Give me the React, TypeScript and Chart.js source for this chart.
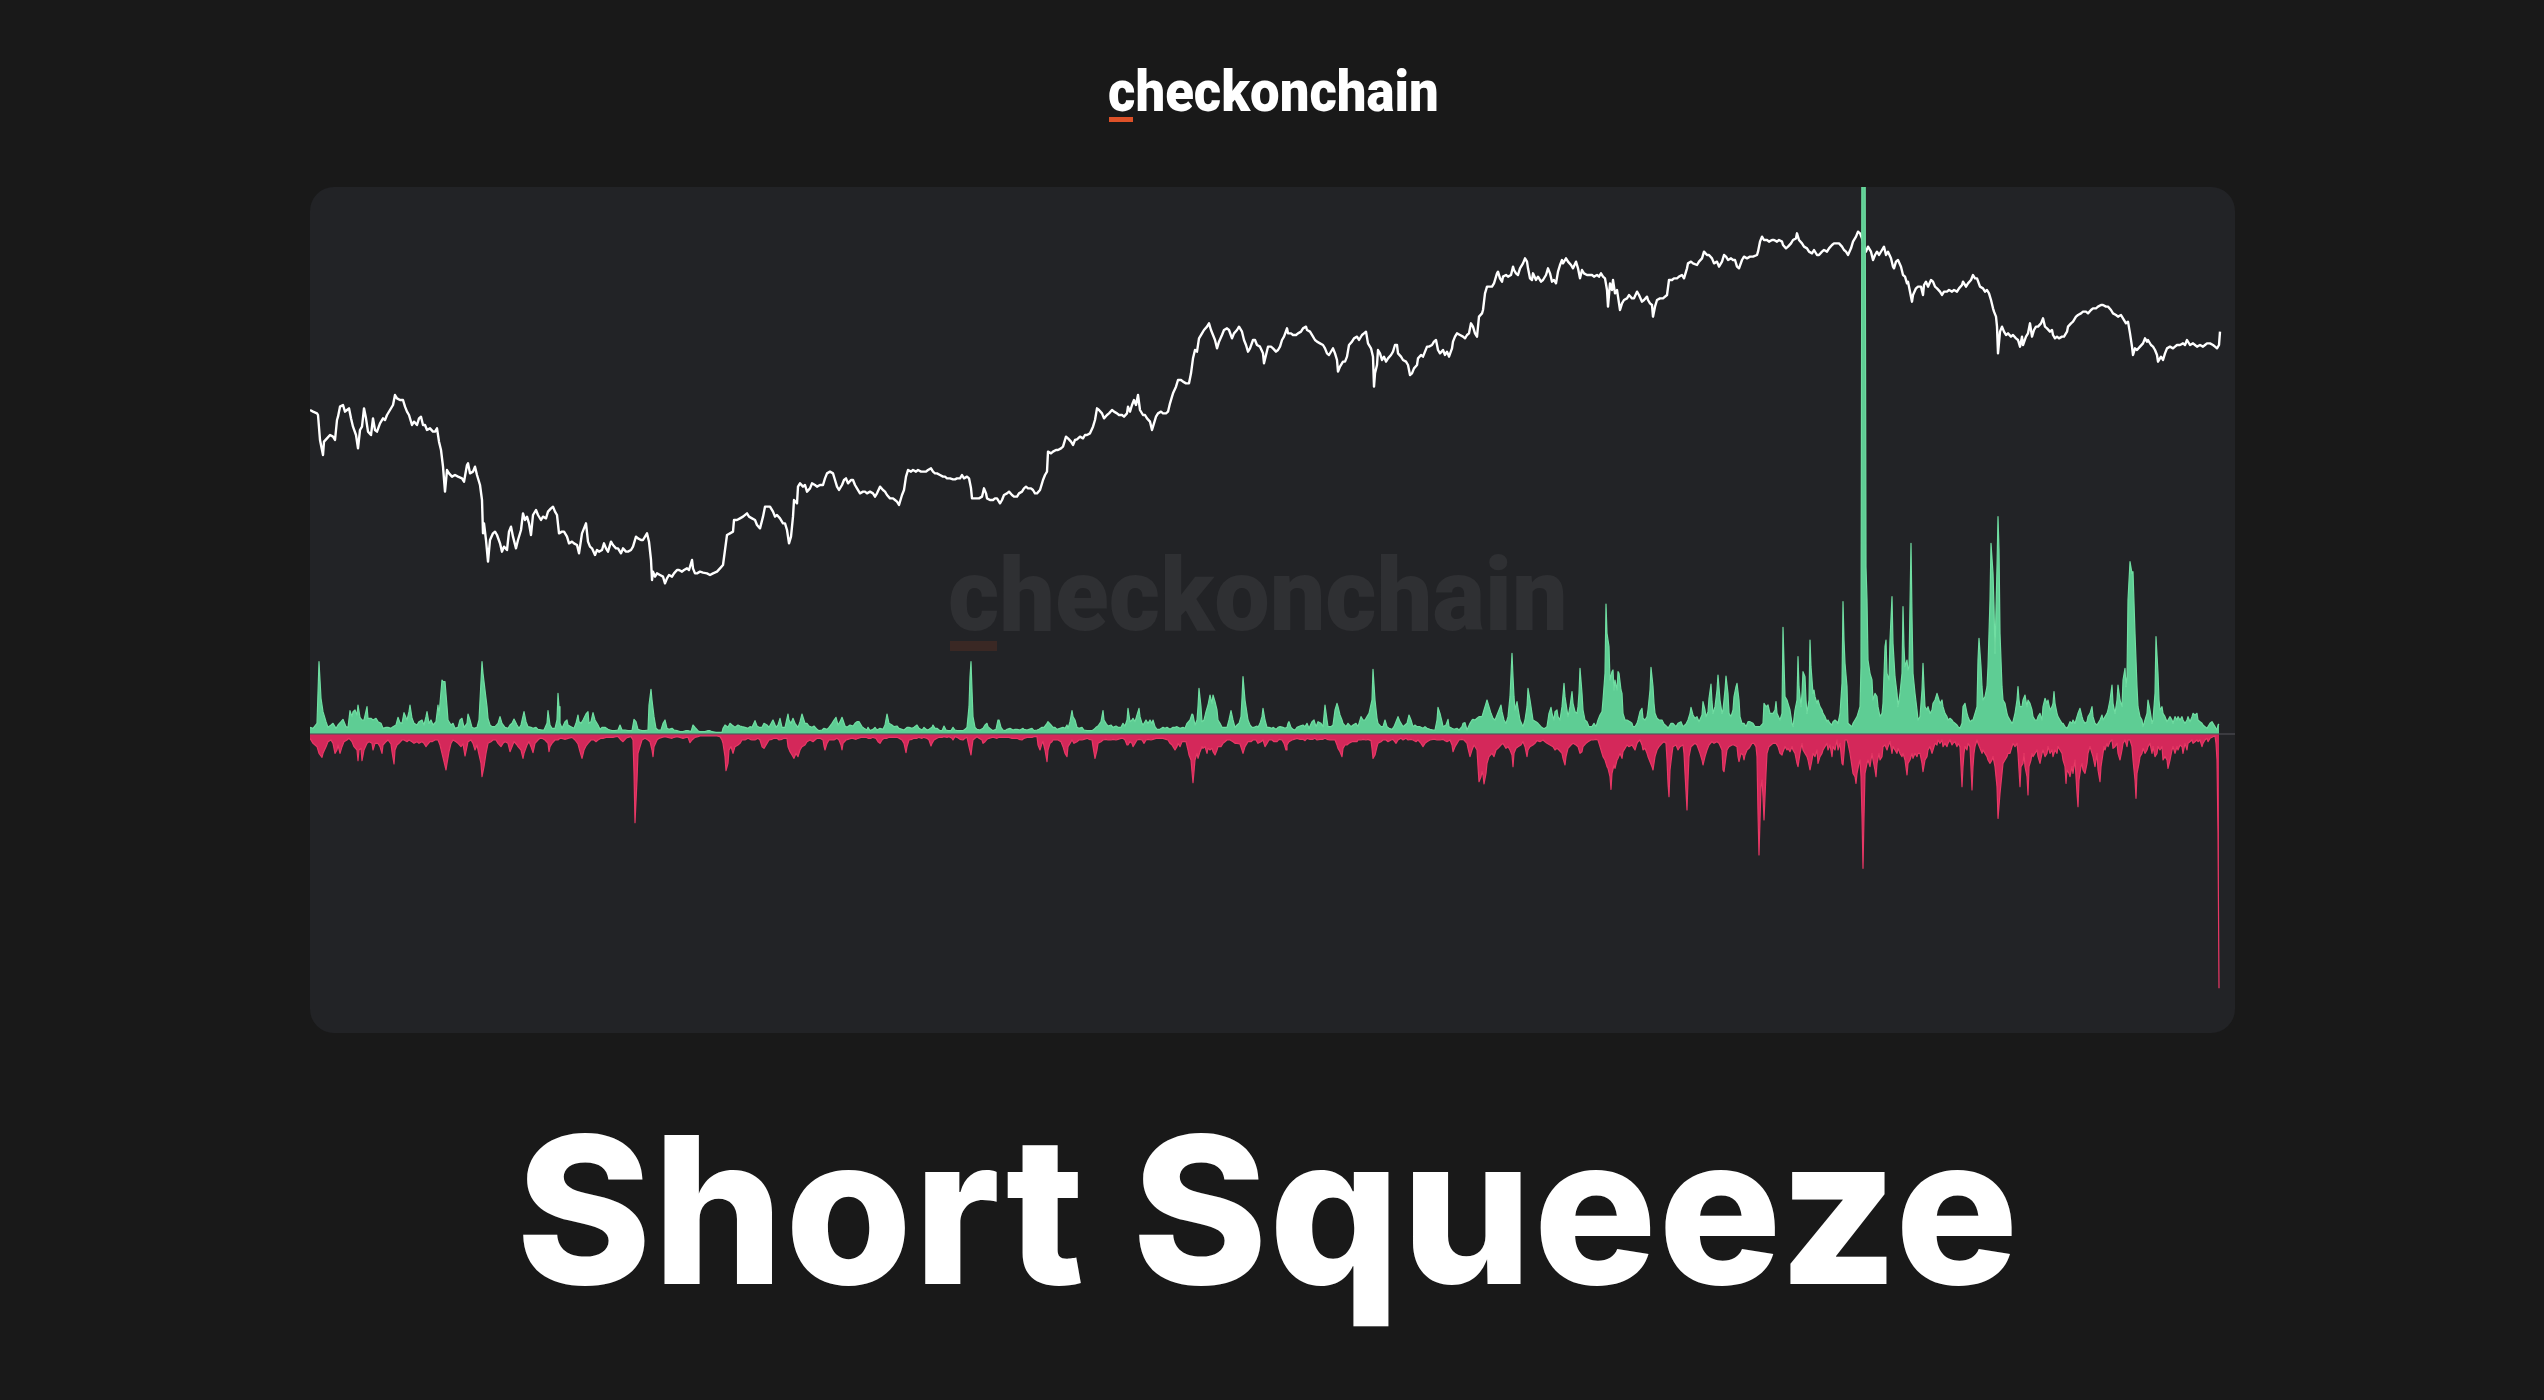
import React, { useEffect, useMemo, useRef } from "react";
import { Chart, registerables } from "chart.js";

Chart.register(...registerables);

type Pt = [number, number];

// ---------- DATA (x = hour index, y = value) ----------
const TITLE = "Short Squeeze";
const BRAND = "checkonchain";

// Price (quote units)
const priceA: Pt[] = [[0,1869],[3,1864],[7,1859],[8,1854],[10,1779],[12,1749],[13,1734],[14,1774],[17,1784],[20,1794],[23,1789],[25,1779],[27,1839],[28,1849],[30,1879],[33,1884],[35,1864],[37,1869],[39,1874],[41,1844],[43,1819],[46,1794],[48,1754],[50,1809],[52,1819],[54,1874],[56,1844],[58,1804],[61,1794],[63,1844],[65,1809],[67,1804],[70,1829],[73,1844],[75,1839],[77,1854],[80,1869],[83,1884],[85,1914],[87,1904],[90,1899],[93,1899],[95,1879],[97,1864],[99,1854],[102,1824],[104,1834],[107,1824],[109,1844],[111,1849],[113,1824],[115,1824],[117,1809],[120,1814],[123,1804],[125,1804],[127,1814],[129,1774],[131,1749],[133,1699],[135,1624],[137,1689],[139,1679],[142,1669],[145,1674],[148,1669],[152,1664],[154,1654],[157,1704],[158,1709],[160,1679],[163,1684],[165,1699],[167,1674],[170,1644],[172,1599],[173,1499],[174,1529],[176,1479],[178,1414],[180,1479],[183,1499],[185,1504],[187,1494],[190,1469],[192,1444],[194,1459],[197,1449],[199,1504],[201,1519],[203,1489],[206,1454],[208,1479],[211,1509],[213,1559],[215,1539],[217,1549],[219,1529],[221,1494],[223,1554],[226,1569],[228,1554],[231,1539],[233,1549],[236,1544],[238,1564],[241,1574],[243,1579],[245,1564],[247,1554],[249,1499],[252,1504],[254,1504],[257,1489],[259,1469],[262,1474],[264,1469],[267,1464],[269,1439],[272,1499],[274,1514],[276,1529],[278,1474],[280,1459],[282,1454],[285,1434],[287,1449],[289,1444],[292,1449],[294,1469],[296,1454],[298,1444],[301,1474],[303,1464],[306,1454],[308,1454],[311,1439],[313,1454],[316,1444],[318,1444],[321,1449],[323,1459],[326,1489],[328,1484],[331,1479],[333,1479],[337,1499],[339,1474],[341,1419],[342,1359],[343,1384],[345,1369],[347,1379],[350,1374],[353,1369],[355,1349],[357,1364],[359,1374],[362,1369],[364,1379],[367,1389],[369,1389],[372,1384],[374,1389],[377,1394],[379,1389],[382,1419],[383,1394],[385,1379],[387,1379],[390,1384],[393,1381],[397,1379],[400,1374],[403,1379],[407,1384],[410,1394],[413,1404],[415,1449],[417,1494],[420,1499],[423,1504],[424,1539],[427,1539],[430,1544],[433,1549],[437,1559],[439,1549],[442,1544],[445,1539],[447,1524],[450,1514],[453,1549],[455,1579],[457,1579],[460,1579],[463,1564],[465,1549],[467,1554],[470,1544],[473,1529],[475,1529],[477,1509],[479,1469],[481,1489],[483,1549],[484,1599],[487,1589],[488,1639],[490,1649]];
const priceB: Pt[] = [[493,1639],[495,1644],[497,1624],[500,1634],[502,1649],[505,1644],[507,1639],[510,1644],[513,1644],[515,1664],[517,1679],[520,1684],[523,1679],[525,1659],[527,1639],[529,1629],[532,1644],[534,1659],[536,1664],[538,1649],[541,1659],[543,1659],[545,1644],[547,1634],[550,1619],[553,1624],[555,1624],[557,1619],[560,1624],[563,1619],[565,1609],[567,1619],[570,1639],[573,1629],[575,1624],[577,1614],[580,1604],[583,1604],[585,1599],[587,1594],[589,1584],[592,1614],[594,1629],[596,1669],[598,1689],[601,1684],[603,1689],[606,1684],[608,1689],[611,1684],[613,1684],[616,1684],[618,1689],[621,1694],[623,1684],[625,1679],[627,1679],[630,1674],[633,1669],[635,1669],[637,1664],[640,1664],[643,1661],[645,1661],[647,1664],[650,1664],[652,1674],[654,1664],[657,1669],[659,1664],[661,1634],[662,1604],[664,1604],[667,1604],[669,1604],[672,1609],[674,1634],[676,1619],[677,1604],[680,1599],[683,1599],[685,1604],[687,1604],[690,1589],[692,1599],[694,1614],[697,1619],[699,1624],[702,1614],[704,1609],[707,1609],[709,1619],[712,1624],[714,1634],[716,1639],[718,1634],[721,1634],[723,1629],[725,1619],[727,1619],[730,1629],[732,1649],[733,1659],[735,1674],[737,1684],[738,1744],[741,1739],[743,1744],[746,1749],[748,1749],[751,1754],[753,1759],[756,1789],[758,1784],[761,1774],[763,1764],[765,1779],[767,1781],[770,1789],[773,1784],[775,1794],[777,1794],[780,1799],[783,1819],[785,1839],[787,1874],[789,1869],[792,1859],[794,1844],[797,1854],[799,1859],[802,1869],[804,1864],[807,1859],[809,1854],[812,1854],[814,1849],[817,1859],[818,1879],[820,1864],[822,1884],[824,1899],[826,1884],[828,1914],[830,1869],[833,1854],[835,1854],[837,1844],[840,1834],[842,1809],[843,1819],[846,1849],[848,1859],[851,1864],[853,1859],[856,1859],[858,1864],[860,1889],[862,1909],[863,1919],[866,1939],[868,1959],[871,1959],[873,1954],[876,1949],[879,1949],[881,1979],[883,2024],[885,2049],[887,2044],[889,2084],[892,2099],[894,2109],[897,2119],[899,2129],[901,2109],[903,2094],[905,2079],[907,2054],[909,2074],[912,2094],[914,2109],[917,2114],[919,2109],[922,2084],[924,2099],[927,2109],[929,2119],[932,2104],[934,2079],[936,2064],[938,2044],[940,2054],[943,2079],[945,2079],[947,2064],[950,2059],[953,2039],[954,2009],[956,2034],[958,2059],[961,2059],[963,2054],[966,2044],[968,2049],[970,2059]];
const priceC: Pt[] = [[972,2079],[974,2089],[977,2114],[978,2099],[981,2099],[983,2094],[986,2094],[988,2099],[991,2104],[993,2114],[996,2119],[997,2109],[1000,2104],[1003,2089],[1005,2079],[1007,2074],[1010,2069],[1013,2064],[1015,2054],[1017,2039],[1019,2034],[1022,2049],[1023,2054],[1025,2039],[1027,2019],[1028,1984],[1030,1999],[1033,2014],[1035,2014],[1037,2029],[1039,2064],[1042,2074],[1044,2084],[1047,2089],[1049,2079],[1052,2094],[1054,2099],[1056,2104],[1058,2069],[1061,2054],[1063,2029],[1064,1939],[1065,1979],[1067,2004],[1068,2049],[1070,2039],[1072,2019],[1074,2029],[1076,2014],[1078,2024],[1081,2034],[1083,2044],[1085,2064],[1087,2064],[1088,2039],[1091,2029],[1093,2019],[1096,2014],[1098,2004],[1100,1974],[1102,1979],[1104,1994],[1107,2004],[1108,2024],[1111,2034],[1113,2029],[1115,2044],[1117,2059],[1119,2059],[1122,2064],[1124,2074],[1126,2079],[1128,2049],[1130,2039],[1133,2049],[1135,2034],[1137,2044],[1139,2029],[1142,2054],[1143,2074],[1145,2089],[1147,2099],[1150,2094],[1153,2089],[1155,2084],[1157,2094],[1159,2099],[1161,2129],[1163,2119],[1165,2099],[1167,2089],[1169,2149],[1172,2159],[1173,2169],[1175,2219],[1177,2239],[1179,2239],[1182,2239],[1184,2249],[1187,2279],[1188,2284],[1190,2264],[1192,2254],[1193,2269],[1196,2274],[1198,2269],[1201,2274],[1203,2299],[1204,2289],[1206,2279],[1208,2274],[1210,2294],[1213,2309],[1215,2324],[1217,2314],[1218,2294],[1220,2264],[1222,2259],[1223,2279],[1226,2259],[1228,2269],[1231,2254],[1233,2259],[1236,2274],[1238,2294],[1240,2279],[1242,2254],[1244,2259],[1246,2249],[1248,2284],[1250,2304],[1252,2319],[1253,2309],[1256,2324],[1258,2314],[1261,2304],[1263,2294],[1266,2314],[1268,2294],[1270,2264],[1272,2289],[1274,2279],[1277,2274],[1279,2274],[1282,2274],[1284,2269],[1287,2274],[1289,2269],[1291,2279],[1293,2269],[1295,2264],[1297,2229],[1298,2179],[1300,2249],[1302,2229],[1303,2259],[1305,2219],[1307,2229],[1308,2209],[1310,2169],[1312,2189],[1314,2199],[1317,2204],[1319,2214],[1322,2204],[1324,2204],[1327,2224],[1329,2214],[1332,2194],[1334,2199],[1337,2209],[1338,2199],[1340,2189],[1342,2184],[1343,2149],[1345,2179],[1347,2199],[1350,2204],[1353,2204],[1357,2214],[1359,2259],[1362,2259],[1364,2264],[1367,2264],[1369,2269],[1372,2274],[1374,2264],[1377,2294],[1378,2309],[1381,2314],[1383,2309],[1387,2304],[1389,2314],[1392,2324],[1394,2344],[1397,2334],[1399,2334],[1402,2324],[1404,2309],[1407,2314],[1409,2299],[1412,2314],[1414,2334],[1416,2329],[1418,2319],[1421,2324],[1423,2319],[1425,2319],[1427,2299],[1429,2294],[1432,2319],[1434,2329],[1437,2324],[1440,2329],[1443,2329],[1447,2334],[1448,2344],[1450,2374]];
const priceD: Pt[] = [[1452,2389],[1454,2379],[1457,2379],[1459,2374],[1462,2379],[1464,2379],[1467,2374],[1469,2379],[1472,2374],[1473,2364],[1476,2354],[1478,2359],[1481,2369],[1483,2379],[1486,2384],[1487,2399],[1489,2379],[1492,2369],[1494,2359],[1497,2354],[1499,2344],[1502,2339],[1504,2349],[1507,2334],[1509,2334],[1512,2344],[1514,2349],[1517,2344],[1519,2354],[1522,2364],[1524,2369],[1527,2369],[1529,2369],[1532,2359],[1534,2349],[1536,2344],[1538,2334],[1541,2354],[1543,2374],[1546,2389],[1548,2404],[1550,2399],[1552,2384],[1554,2359],[1556,2344],[1558,2359],[1561,2344],[1563,2319],[1565,2334],[1567,2344],[1569,2334],[1572,2349],[1574,2359],[1576,2334],[1578,2344],[1581,2324],[1583,2299],[1584,2294],[1586,2314],[1588,2319],[1591,2299],[1593,2274],[1595,2269],[1597,2249],[1598,2254],[1600,2224],[1602,2194],[1603,2214],[1606,2234],[1608,2239],[1611,2239],[1613,2214],[1614,2244],[1616,2254],[1618,2239],[1621,2259],[1623,2254],[1625,2239],[1627,2234],[1630,2224],[1632,2214],[1634,2224],[1637,2224],[1639,2229],[1642,2224],[1644,2229],[1647,2224],[1649,2234],[1652,2244],[1653,2254],[1656,2239],[1658,2249],[1661,2259],[1663,2274],[1665,2264],[1667,2264],[1670,2239],[1673,2234],[1675,2224],[1677,2229],[1679,2219],[1681,2199],[1683,2174],[1684,2164],[1686,2149],[1687,2119],[1688,2039],[1690,2104],[1692,2119],[1694,2104],[1696,2094],[1698,2099],[1701,2089],[1703,2094],[1706,2084],[1708,2079],[1710,2059],[1712,2089],[1713,2064],[1716,2089],[1718,2099],[1720,2129],[1722,2089],[1724,2109],[1726,2119],[1728,2119],[1731,2129],[1733,2144],[1735,2119],[1737,2114],[1740,2104],[1742,2109],[1743,2094],[1745,2084],[1747,2089],[1749,2084],[1752,2089],[1754,2089],[1757,2104],[1758,2119],[1761,2129],[1763,2134],[1766,2149],[1768,2154],[1771,2159],[1773,2164],[1776,2164],[1778,2159],[1781,2169],[1783,2174],[1786,2174],[1788,2179],[1791,2184],[1793,2184],[1796,2179],[1798,2179],[1801,2169],[1803,2159],[1806,2154],[1808,2149],[1811,2154],[1813,2144],[1816,2129],[1818,2134],[1820,2099],[1822,2059],[1823,2034],[1825,2054],[1827,2049],[1830,2059],[1833,2069],[1835,2084],[1837,2074],[1838,2079],[1841,2064],[1843,2059],[1845,2049],[1847,2034],[1848,2014],[1851,2029],[1853,2019],[1855,2039],[1857,2054],[1860,2059],[1863,2054],[1865,2059],[1867,2064],[1870,2064],[1873,2069],[1875,2064],[1877,2079],[1880,2064],[1883,2069],[1885,2064],[1887,2059],[1890,2064],[1893,2059],[1895,2064],[1897,2069],[1900,2069],[1903,2064],[1905,2059],[1907,2054],[1909,2064],[1910,2104]];

// Short liquidations (positive)
const shortLiqA: Pt[] = [[0,20],[3,17],[7,32],[9,217],[11,107],[13,67],[16,37],[18,20],[21,27],[23,32],[26,17],[28,27],[31,37],[33,44],[36,22],[38,20],[40,70],[42,52],[43,67],[45,72],[47,57],[48,87],[50,50],[52,42],[54,42],[57,82],[58,47],[61,47],[63,42],[66,47],[68,37],[71,32],[73,17],[76,20],[78,20],[81,17],[83,22],[86,27],[88,50],[90,34],[92,32],[94,64],[97,42],[99,67],[100,87],[102,47],[104,32],[107,27],[109,37],[112,42],[114,27],[116,52],[117,67],[119,32],[121,42],[123,27],[126,37],[128,87],[129,57],[132,162],[133,157],[135,157],[137,82],[138,42],[141,27],[143,32],[145,17],[148,20],[150,42],[152,47],[154,20],[157,32],[158,60],[160,42],[162,20],[164,17],[167,20],[169,42],[172,217],[173,182],[175,132],[177,82],[178,47],[180,27],[182,22],[185,22],[188,32],[190,52],[192,32],[195,20],[198,17],[200,27],[202,32],[204,45],[207,27],[209,17],[211,27],[214,67],[216,37],[218,22],[221,20],[223,17],[226,20],[228,14],[232,12],[234,12],[237,32],[238,70],[240,27],[242,17],[245,17],[247,42],[248,122],[249,82],[250,32],[252,17],[255,37],[257,42],[258,27],[261,22],[264,17],[266,32],[268,57],[269,37],[271,32],[273,42],[276,60],[278,67],[279,32],[281,37],[283,64],[285,42],[288,27],[290,14],[292,20],[295,20],[298,14],[300,12],[302,10],[305,10],[308,12],[310,27],[312,12],[315,12],[318,10],[320,10],[322,10],[324,44],[326,37],[328,14],[330,12],[332,10],[335,10],[338,12],[339,87],[341,134],[342,102],[344,52],[346,17],[348,12],[351,12],[353,32],[355,42],[357,17],[359,14],[362,17],[364,12],[367,10],[370,7],[373,7],[376,10],[378,10],[381,7],[383,27],[385,20],[388,10],[390,7],[392,7],[395,7],[398,10],[400,10],[402,7],[406,5],[409,5],[412,5],[413,17],[415,27],[418,20],[420,32],[422,27],[425,20],[428,27],[430,24],[432,22],[435,20],[438,17],[440,22],[442,20],[445,40],[447,24],[449,20],[452,20],[454,32],[457,27],[459,20],[462,37],[463,42],[466,20],[468,27],[470,47],[472,20],[475,20],[478,60],[479,42],[481,32],[483,47],[485,32],[488,20],[490,37],[492,60],[495,32]];
const shortLiqB: Pt[] = [[497,32],[499,24],[502,20],[504,24],[507,14],[509,10],[512,12],[514,17],[517,14],[519,20],[522,32],[524,42],[526,50],[528,27],[530,37],[532,50],[533,42],[535,24],[537,20],[540,27],[543,24],[545,32],[547,37],[549,37],[552,22],[554,17],[557,12],[558,20],[560,10],[563,14],[565,20],[567,12],[570,17],[573,14],[575,27],[577,60],[579,32],[582,27],[584,22],[587,24],[589,17],[592,14],[594,12],[597,20],[599,20],[602,17],[604,20],[607,27],[609,17],[612,12],[614,20],[617,12],[619,14],[622,20],[623,27],[625,17],[627,17],[630,10],[632,10],[634,24],[636,12],[638,10],[641,10],[643,20],[645,12],[647,10],[650,10],[653,10],[655,14],[657,20],[659,82],[660,172],[661,217],[662,132],[663,52],[665,20],[667,14],[670,12],[673,17],[675,27],[677,32],[678,22],[681,14],[683,10],[686,14],[688,42],[689,42],[691,20],[693,12],[695,10],[697,14],[700,17],[703,12],[705,14],[707,14],[710,12],[713,17],[714,14],[717,12],[719,14],[722,17],[724,10],[727,12],[729,14],[732,20],[734,20],[737,32],[738,37],[741,27],[743,20],[745,20],[747,14],[750,17],[753,20],[755,17],[757,27],[758,17],[760,37],[762,70],[763,52],[765,42],[767,20],[769,17],[772,20],[774,12],[777,10],[779,10],[782,10],[784,14],[786,20],[788,24],[791,37],[793,70],[794,42],[796,32],[798,24],[801,27],[803,20],[806,24],[808,20],[811,20],[813,32],[815,24],[817,42],[818,77],[820,37],[822,42],[823,47],[825,37],[827,57],[829,77],[830,52],[832,32],[833,27],[836,42],[838,32],[840,42],[842,32],[843,42],[845,22],[847,14],[850,14],[853,20],[855,17],[857,20],[860,14],[863,20],[865,20],[867,22],[870,17],[873,20],[875,17],[877,32],[880,42],[882,60],[883,57],[885,27],[887,42],[888,82],[889,137],[891,82],[892,37],[894,42],[896,67],[898,87],[900,117],[902,92],[903,117],[905,97],[907,72],[908,42],[910,32],[912,20],[913,20],[917,20],[919,42],[921,70],[923,42],[925,20],[927,27],[929,32],[931,52],[932,107],[933,172],[935,102],[937,62],[938,42],[940,27],[942,20],[944,20],[947,24],[948,20],[950,32],[952,52],[953,77],[955,42],[957,20],[959,20],[962,17],[963,20],[966,14],[968,20],[970,22],[973,20],[975,17],[977,20],[978,32],[979,37],[981,20],[983,14],[985,12],[987,20],[990,24]];
const shortLiqC: Pt[] = [[993,27],[995,22],[997,32],[999,17],[1002,37],[1004,42],[1006,22],[1008,37],[1011,32],[1013,22],[1015,87],[1017,42],[1018,22],[1021,22],[1023,27],[1025,72],[1027,92],[1028,82],[1030,57],[1032,42],[1033,32],[1036,22],[1038,32],[1041,22],[1043,27],[1046,32],[1048,22],[1051,52],[1053,42],[1055,42],[1057,52],[1059,62],[1062,102],[1063,194],[1065,102],[1067,47],[1068,32],[1071,22],[1073,22],[1075,42],[1077,22],[1079,17],[1082,14],[1084,22],[1086,37],[1088,52],[1090,37],[1093,22],[1095,27],[1097,32],[1099,57],[1101,42],[1103,22],[1105,27],[1107,22],[1110,22],[1113,17],[1115,22],[1117,17],[1120,14],[1123,12],[1125,12],[1127,42],[1128,80],[1130,62],[1132,37],[1133,22],[1136,27],[1138,44],[1139,22],[1142,17],[1144,14],[1147,17],[1149,12],[1152,22],[1153,32],[1155,34],[1157,12],[1160,32],[1162,42],[1163,44],[1165,42],[1167,47],[1169,52],[1172,52],[1174,72],[1176,92],[1177,102],[1179,82],[1181,62],[1183,47],[1185,42],[1187,57],[1189,72],[1191,87],[1192,67],[1194,42],[1196,32],[1198,52],[1200,112],[1202,242],[1203,172],[1204,112],[1205,72],[1207,97],[1208,77],[1210,42],[1213,22],[1215,42],[1217,82],[1218,137],[1220,102],[1222,62],[1223,42],[1226,37],[1228,32],[1231,22],[1233,17],[1235,17],[1237,22],[1239,62],[1241,80],[1242,62],[1244,42],[1245,67],[1247,72],[1248,52],[1250,42],[1252,82],[1253,117],[1254,152],[1255,112],[1257,72],[1258,52],[1260,82],[1262,127],[1263,92],[1265,67],[1267,62],[1268,82],[1269,122],[1270,197],[1272,122],[1273,72],[1275,42],[1277,37],[1279,22],[1282,22],[1284,32],[1286,22],[1288,42],[1290,57],[1292,67],[1293,102],[1295,182],[1296,390],[1297,302],[1299,262],[1300,162],[1302,187],[1303,192],[1304,132],[1305,162],[1307,132],[1308,187],[1309,182],[1311,132],[1312,122],[1313,62],[1315,42],[1317,42],[1320,37],[1322,32],[1323,22],[1325,22],[1327,32],[1328,42],[1330,67],[1332,77],[1333,47],[1335,42],[1337,52],[1338,72],[1340,132],[1341,200],[1343,142],[1344,92],[1345,62],[1347,47],[1349,42],[1352,42],[1354,30],[1357,22],[1358,17],[1361,32],[1363,32],[1366,22],[1368,32],[1371,37],[1373,22],[1376,30],[1378,42],[1380,62],[1381,80],[1383,57],[1385,47],[1387,52],[1389,37],[1392,57],[1393,97],[1395,72],[1396,52],[1398,67],[1399,107],[1401,150],[1402,97],[1403,62],[1405,82],[1407,132],[1408,177],[1410,102],[1412,62],[1413,72],[1415,132],[1416,174],[1418,122],[1419,62],[1421,52],[1423,72],[1424,112],[1426,142],[1427,152],[1429,102],[1430,52],[1432,32],[1434,32],[1436,22],[1438,37],[1440,37],[1443,32],[1445,22],[1447,22],[1450,22],[1453,32],[1454,92],[1456,82],[1458,87],[1460,62],[1463,62],[1465,72],[1466,97],[1467,62],[1470,42],[1472,62],[1473,320]];
const shortLiqD: Pt[] = [[1475,112],[1477,102],[1478,92],[1480,72],[1482,32],[1483,22],[1485,72],[1487,102],[1488,232],[1489,142],[1491,82],[1492,122],[1493,187],[1495,172],[1496,102],[1497,62],[1499,102],[1500,282],[1501,202],[1503,122],[1504,132],[1505,112],[1507,92],[1508,102],[1510,82],[1512,72],[1513,62],[1515,52],[1517,37],[1518,42],[1520,32],[1522,27],[1523,37],[1525,42],[1527,37],[1528,32],[1530,62],[1532,152],[1533,397],[1534,282],[1535,212],[1537,142],[1538,32],[1540,27],[1542,22],[1543,32],[1545,42],[1547,52],[1548,62],[1550,82],[1551,202],[1552,1900],[1555,1900],[1556,502],[1557,402],[1558,222],[1560,182],[1562,162],[1563,102],[1565,122],[1567,112],[1568,82],[1570,52],[1572,62],[1573,92],[1575,262],[1576,282],[1577,182],[1579,162],[1580,282],[1582,412],[1583,272],[1584,222],[1585,172],[1587,122],[1588,82],[1590,122],[1592,182],[1593,382],[1594,262],[1595,202],[1597,222],[1598,192],[1599,202],[1601,572],[1602,352],[1603,182],[1605,122],[1607,72],[1608,42],[1610,52],[1612,132],[1613,212],[1614,142],[1615,82],[1617,72],[1618,82],[1620,62],[1622,72],[1623,92],[1625,102],[1627,122],[1628,112],[1630,92],[1632,102],[1633,82],[1635,62],[1637,52],[1638,42],[1640,47],[1642,42],[1643,37],[1645,32],[1647,27],[1648,22],[1650,17],[1652,32],[1653,82],[1655,92],[1657,62],[1658,52],[1660,37],[1662,42],[1663,42],[1665,62],[1667,82],[1668,222],[1669,287],[1671,202],[1672,142],[1673,102],[1675,112],[1677,142],[1678,202],[1680,402],[1681,572],[1683,482],[1684,382],[1685,242],[1687,502],[1688,652],[1689,552],[1690,302],[1692,142],[1693,102],[1695,92],[1697,62],[1698,52],[1700,42],[1702,32],[1703,37],[1705,62],[1707,102],[1708,142],[1709,102],[1710,82],[1712,82],[1713,102],[1715,117],[1717,82],[1718,102],[1720,92],[1722,72],[1723,52],[1725,42],[1727,42],[1728,52],[1730,62],[1732,42],[1733,82],[1735,107],[1737,92],[1738,102],[1740,72],[1742,82],[1743,92],[1744,127],[1745,92],[1747,62],[1748,52],[1750,42],[1752,32],[1753,32],[1755,22],[1757,17],[1758,22],[1760,37],[1762,32],[1763,42],[1765,32],[1767,52],[1768,62],[1770,77],[1772,52],[1773,42],[1775,32],[1777,37],[1778,52],[1780,62],[1782,82],[1783,52],[1785,32],[1787,27],[1788,32],[1790,42],[1792,57],[1793,42],[1795,52],[1797,62],[1798,72],[1800,102],[1802,147],[1803,92],[1805,62],[1807,102],[1808,147],[1810,102],[1812,82],[1813,162],[1815,197],[1816,142],[1817,172],[1818,402],[1820,517],[1822,482],[1823,487],[1825,302],[1827,142],[1828,82],[1830,52],[1832,42],[1833,22],[1835,42],[1837,62],[1838,102],[1840,72],[1842,32],[1843,42],[1845,122],[1846,292],[1848,182],[1849,102],[1850,72],[1852,82],[1853,62],[1855,52],[1857,37],[1858,42],[1860,52],[1862,42],[1863,32],[1865,52],[1867,42],[1868,52],[1870,42],[1872,52],[1873,42],[1875,32],[1877,42],[1878,52],[1880,37],[1882,52],[1883,62],[1885,57],[1887,62],[1888,42],[1890,37],[1892,32],[1893,27],[1895,22],[1897,17],[1898,22],[1900,32],[1902,37],[1903,32],[1905,22],[1907,12],[1908,27],[1909,30]];

// Long liquidations (negative)
const longLiqA: Pt[] = [[0,-13],[3,-28],[7,-38],[9,-58],[12,-70],[13,-58],[16,-38],[18,-23],[21,-18],[23,-28],[25,-58],[27,-48],[28,-33],[30,-58],[32,-38],[34,-23],[37,-18],[39,-13],[42,-23],[44,-38],[47,-48],[48,-80],[49,-48],[51,-43],[52,-80],[54,-48],[57,-28],[59,-23],[62,-28],[63,-48],[65,-28],[68,-28],[70,-38],[72,-58],[73,-33],[76,-23],[78,-18],[81,-30],[82,-53],[84,-90],[85,-48],[87,-33],[89,-28],[92,-18],[94,-18],[97,-23],[99,-18],[102,-23],[104,-28],[107,-23],[109,-28],[112,-23],[114,-28],[116,-38],[118,-30],[120,-23],[122,-23],[125,-18],[128,-18],[130,-33],[132,-58],[134,-83],[136,-108],[137,-88],[139,-53],[141,-28],[143,-18],[146,-23],[148,-28],[151,-38],[153,-30],[155,-66],[157,-38],[158,-23],[161,-18],[163,-28],[165,-48],[167,-33],[168,-48],[171,-88],[172,-128],[174,-98],[176,-58],[178,-28],[181,-23],[183,-18],[186,-18],[188,-28],[191,-38],[193,-28],[195,-23],[198,-28],[200,-53],[202,-38],[204,-23],[207,-33],[208,-38],[211,-48],[213,-73],[214,-58],[217,-33],[219,-23],[221,-38],[223,-56],[225,-28],[228,-18],[230,-13],[232,-13],[235,-18],[238,-28],[239,-53],[240,-38],[242,-28],[245,-18],[248,-18],[250,-13],[252,-13],[255,-16],[258,-13],[262,-10],[265,-18],[268,-30],[270,-53],[272,-73],[274,-48],[276,-36],[278,-28],[281,-18],[284,-18],[286,-23],[288,-18],[291,-13],[293,-13],[296,-10],[298,-10],[301,-10],[303,-10],[306,-8],[308,-8],[311,-18],[313,-23],[316,-13],[318,-10],[321,-8],[323,-18],[324,-118],[325,-266],[327,-138],[328,-58],[330,-38],[332,-18],[335,-13],[338,-18],[340,-23],[342,-48],[343,-68],[344,-38],[347,-18],[349,-13],[352,-10],[355,-8],[358,-10],[362,-13],[364,-10],[367,-8],[370,-10],[373,-13],[376,-10],[378,-10],[380,-26],[382,-18],[385,-10],[388,-8],[390,-6],[393,-6],[397,-6],[400,-6],[403,-6],[407,-6],[410,-8],[412,-18],[413,-28],[415,-68],[416,-110],[418,-88],[419,-48],[421,-38],[423,-58],[425,-38],[428,-33],[430,-28],[432,-18],[435,-18],[438,-13],[440,-16],[442,-18],[445,-18],[448,-13],[450,-18],[452,-38],[454,-43],[457,-28],[459,-18],[462,-16],[464,-13],[467,-13],[469,-18],[472,-16],[474,-13],[477,-13],[478,-38],[480,-53],[482,-63],[484,-73],[486,-58],[488,-68],[490,-48],[492,-38],[495,-33]];
const longLiqB: Pt[] = [[497,-23],[500,-18],[503,-23],[505,-18],[507,-13],[510,-13],[513,-18],[514,-36],[515,-48],[517,-28],[519,-18],[522,-18],[524,-18],[527,-13],[529,-18],[531,-33],[532,-48],[533,-28],[536,-18],[538,-16],[541,-13],[543,-13],[546,-16],[548,-13],[551,-10],[553,-10],[556,-10],[558,-13],[561,-13],[563,-10],[566,-13],[568,-23],[570,-28],[572,-18],[574,-13],[577,-13],[579,-10],[582,-10],[584,-10],[587,-10],[589,-13],[592,-18],[594,-28],[596,-56],[597,-38],[599,-18],[602,-16],[604,-13],[607,-13],[609,-10],[612,-13],[614,-10],[617,-13],[619,-18],[621,-36],[622,-28],[624,-18],[627,-13],[629,-10],[632,-10],[634,-8],[637,-10],[639,-8],[642,-13],[643,-18],[645,-8],[647,-10],[650,-16],[653,-18],[655,-13],[657,-10],[659,-38],[661,-63],[662,-38],[663,-18],[665,-13],[667,-8],[669,-13],[672,-18],[673,-28],[675,-23],[677,-16],[679,-13],[682,-10],[684,-10],[687,-13],[689,-10],[692,-10],[694,-10],[697,-10],[699,-10],[702,-13],[704,-13],[707,-13],[709,-16],[712,-18],[714,-13],[717,-10],[719,-10],[722,-10],[724,-8],[727,-8],[728,-33],[730,-48],[732,-28],[733,-23],[735,-48],[737,-83],[738,-48],[740,-28],[742,-23],[743,-18],[746,-18],[748,-18],[751,-23],[753,-38],[755,-58],[757,-68],[758,-38],[760,-28],[762,-18],[764,-28],[767,-23],[769,-18],[772,-18],[774,-16],[777,-13],[779,-16],[782,-18],[783,-38],[785,-73],[787,-48],[788,-28],[791,-23],[793,-18],[796,-16],[798,-18],[801,-18],[803,-16],[806,-18],[808,-16],[811,-13],[813,-13],[815,-18],[817,-33],[818,-33],[820,-23],[822,-28],[823,-38],[825,-28],[827,-18],[829,-16],[832,-18],[834,-28],[836,-18],[838,-16],[841,-18],[843,-16],[846,-13],[848,-13],[851,-13],[853,-13],[856,-16],[858,-18],[860,-28],[862,-33],[863,-38],[865,-48],[867,-38],[868,-28],[870,-38],[872,-23],[874,-23],[876,-23],[878,-48],[879,-63],[881,-78],[882,-113],[883,-146],[884,-113],[885,-78],[887,-58],[888,-73],[890,-53],[892,-38],[893,-43],[895,-38],[897,-58],[898,-43],[900,-48],[902,-43],[903,-53],[905,-63],[907,-48],[908,-38],[911,-38],[913,-28],[915,-23],[917,-18],[920,-18],[923,-23],[925,-28],[927,-28],[930,-30],[932,-48],[933,-58],[935,-38],[937,-28],[938,-23],[941,-23],[943,-18],[946,-18],[948,-28],[951,-23],[953,-18],[955,-38],[957,-28],[959,-18],[962,-18],[964,-23],[967,-23],[969,-16],[972,-18],[974,-28],[976,-48],[977,-33],[979,-23],[982,-18],[984,-16],[987,-13],[990,-16]];
const longLiqC: Pt[] = [[993,-16],[995,-20],[997,-13],[1000,-16],[1003,-16],[1005,-13],[1007,-18],[1010,-16],[1013,-16],[1015,-13],[1017,-16],[1020,-18],[1023,-18],[1025,-18],[1027,-33],[1028,-43],[1030,-53],[1032,-68],[1033,-43],[1035,-33],[1037,-33],[1039,-28],[1042,-23],[1044,-23],[1047,-23],[1048,-18],[1051,-18],[1053,-16],[1056,-18],[1058,-16],[1061,-20],[1062,-43],[1063,-73],[1065,-63],[1067,-38],[1068,-28],[1071,-23],[1073,-18],[1076,-18],[1078,-23],[1081,-18],[1083,-16],[1086,-28],[1088,-18],[1091,-13],[1093,-18],[1096,-13],[1098,-18],[1101,-16],[1103,-18],[1106,-23],[1108,-18],[1111,-28],[1113,-38],[1115,-28],[1117,-23],[1120,-18],[1123,-16],[1125,-16],[1127,-18],[1130,-18],[1133,-16],[1135,-20],[1137,-23],[1140,-18],[1142,-33],[1143,-53],[1145,-38],[1147,-28],[1149,-18],[1152,-16],[1154,-18],[1157,-28],[1158,-43],[1160,-68],[1162,-48],[1164,-33],[1167,-48],[1168,-98],[1169,-143],[1171,-128],[1172,-113],[1173,-123],[1174,-150],[1176,-118],[1177,-88],[1179,-68],[1182,-58],[1184,-68],[1186,-48],[1188,-43],[1191,-33],[1193,-28],[1196,-43],[1198,-38],[1200,-48],[1202,-63],[1203,-98],[1204,-58],[1206,-43],[1208,-38],[1211,-33],[1213,-23],[1215,-38],[1217,-68],[1218,-48],[1220,-38],[1223,-33],[1225,-28],[1227,-20],[1230,-23],[1233,-18],[1235,-23],[1237,-28],[1240,-33],[1243,-38],[1245,-48],[1247,-43],[1249,-48],[1252,-58],[1253,-73],[1255,-93],[1256,-68],[1258,-43],[1261,-33],[1263,-28],[1266,-33],[1268,-38],[1270,-58],[1272,-53],[1273,-38],[1276,-28],[1278,-23],[1281,-18],[1283,-18],[1286,-16],[1288,-18],[1290,-38],[1292,-58],[1293,-68],[1295,-78],[1297,-98],[1298,-103],[1300,-128],[1301,-166],[1302,-118],[1304,-93],[1305,-103],[1307,-78],[1308,-73],[1310,-58],[1312,-73],[1313,-53],[1315,-43],[1317,-33],[1319,-38],[1322,-33],[1323,-38],[1325,-48],[1327,-28],[1328,-23],[1330,-18],[1332,-33],[1333,-48],[1335,-43],[1337,-58],[1338,-68],[1340,-83],[1342,-98],[1343,-108],[1345,-68],[1347,-48],[1349,-38],[1352,-28],[1354,-23],[1356,-28],[1357,-78],[1358,-148],[1359,-188],[1360,-108],[1362,-58],[1363,-38],[1366,-33],[1368,-48],[1370,-38],[1373,-33],[1374,-58],[1375,-118],[1377,-228],[1378,-138],[1379,-68],[1381,-38],[1383,-33],[1385,-28],[1387,-33],[1390,-58],[1392,-78],[1393,-93],[1395,-68],[1397,-48],[1399,-33],[1402,-23],[1404,-28],[1407,-23],[1409,-28],[1412,-48],[1413,-108],[1414,-113],[1416,-68],[1417,-48],[1419,-38],[1422,-33],[1424,-33],[1427,-38],[1428,-68],[1429,-83],[1431,-58],[1433,-63],[1434,-78],[1435,-63],[1437,-48],[1439,-43],[1442,-28],[1444,-28],[1446,-38],[1447,-68],[1448,-238],[1449,-363],[1450,-258],[1451,-158],[1452,-138],[1453,-188],[1454,-258],[1455,-188],[1456,-118],[1457,-58],[1459,-38],[1461,-33],[1463,-28],[1466,-28],[1468,-38],[1470,-58],[1472,-63]];
const longLiqD: Pt[] = [[1473,-53],[1475,-38],[1477,-48],[1478,-43],[1480,-53],[1482,-38],[1483,-48],[1485,-58],[1487,-88],[1488,-98],[1490,-58],[1492,-28],[1493,-48],[1495,-58],[1497,-68],[1498,-78],[1500,-108],[1502,-78],[1503,-58],[1505,-68],[1507,-48],[1508,-88],[1510,-68],[1512,-58],[1513,-48],[1515,-38],[1517,-28],[1518,-48],[1520,-33],[1522,-68],[1523,-38],[1525,-48],[1527,-18],[1528,-48],[1530,-28],[1532,-88],[1533,-93],[1534,-58],[1535,-18],[1537,-18],[1538,-28],[1540,-58],[1542,-98],[1543,-118],[1545,-128],[1546,-148],[1547,-118],[1549,-88],[1550,-78],[1551,-128],[1552,-248],[1553,-403],[1554,-248],[1555,-118],[1557,-88],[1558,-78],[1560,-98],[1562,-58],[1563,-78],[1565,-108],[1566,-128],[1567,-88],[1569,-58],[1570,-78],[1572,-68],[1573,-38],[1575,-33],[1577,-48],[1578,-38],[1580,-23],[1582,-58],[1583,-38],[1585,-48],[1587,-58],[1588,-43],[1590,-58],[1592,-68],[1593,-58],[1595,-78],[1597,-123],[1598,-88],[1600,-78],[1602,-58],[1603,-73],[1605,-58],[1607,-68],[1608,-58],[1610,-58],[1612,-88],[1613,-113],[1615,-78],[1617,-68],[1618,-48],[1620,-38],[1622,-58],[1623,-48],[1625,-28],[1627,-33],[1628,-18],[1630,-28],[1632,-18],[1633,-38],[1635,-28],[1637,-38],[1638,-28],[1640,-18],[1642,-33],[1643,-28],[1645,-23],[1647,-38],[1648,-28],[1650,-38],[1652,-158],[1653,-98],[1654,-58],[1655,-38],[1657,-48],[1658,-28],[1660,-38],[1662,-168],[1663,-98],[1664,-58],[1665,-38],[1667,-18],[1668,-28],[1670,-43],[1672,-58],[1673,-48],[1675,-58],[1677,-68],[1678,-78],[1680,-88],[1682,-78],[1683,-68],[1685,-98],[1687,-158],[1688,-253],[1690,-178],[1692,-118],[1693,-88],[1695,-78],[1697,-68],[1698,-58],[1700,-58],[1702,-38],[1703,-28],[1705,-38],[1707,-28],[1708,-58],[1710,-158],[1711,-98],[1713,-88],[1714,-58],[1715,-98],[1717,-128],[1718,-183],[1719,-98],[1721,-78],[1722,-58],[1723,-68],[1725,-58],[1727,-48],[1728,-68],[1730,-88],[1732,-58],[1733,-48],[1735,-68],[1737,-58],[1738,-38],[1740,-58],[1742,-48],[1743,-68],[1745,-48],[1747,-58],[1748,-38],[1750,-48],[1752,-58],[1753,-78],[1755,-98],[1756,-148],[1757,-108],[1759,-118],[1760,-128],[1762,-98],[1763,-118],[1765,-78],[1766,-128],[1767,-178],[1768,-218],[1769,-138],[1771,-98],[1772,-88],[1773,-108],[1775,-118],[1777,-88],[1778,-58],[1780,-38],[1782,-58],[1783,-68],[1785,-98],[1787,-58],[1788,-108],[1790,-143],[1791,-98],[1793,-58],[1794,-38],[1795,-48],[1797,-28],[1798,-38],[1800,-23],[1802,-18],[1803,-43],[1805,-38],[1807,-28],[1808,-58],[1810,-78],[1812,-48],[1813,-28],[1815,-18],[1817,-38],[1818,-18],[1820,-18],[1822,-38],[1823,-78],[1825,-138],[1826,-193],[1827,-118],[1829,-88],[1830,-68],[1832,-58],[1833,-43],[1835,-58],[1837,-48],[1838,-38],[1840,-28],[1842,-58],[1843,-38],[1845,-68],[1847,-58],[1848,-38],[1850,-48],[1852,-38],[1853,-78],[1855,-68],[1857,-78],[1858,-103],[1860,-78],[1862,-48],[1863,-38],[1865,-58],[1867,-38],[1868,-48],[1870,-33],[1872,-38],[1873,-58],[1875,-28],[1877,-48],[1878,-28],[1880,-23],[1882,-18],[1883,-28],[1885,-23],[1887,-18],[1888,-23],[1890,-18],[1892,-38],[1893,-28],[1895,-18],[1897,-13],[1898,-23],[1900,-13],[1902,-10],[1903,-8],[1905,-6],[1906,-28],[1907,-78],[1908,-298],[1909,-763]];

// axis ranges
const HOUR_MAX = 1925;
const PRICE_MIN = 0;
const PRICE_MAX = 2538;
const LIQ_MIN = -897;
const LIQ_MAX = 1641;

// ---------- helpers ----------
const toXY = (...parts: Pt[][]) => parts.flat().map(([x, y]) => ({ x, y }));

function measure(text: string, font: string) {
  const ctx = document.createElement("canvas").getContext("2d")!;
  ctx.font = font;
  return ctx.measureText(text);
}

// Fit a string: ascender height of "h" → font size, glyph width → scaleX or letter-spacing
function useFit(text: string, family: string, weight: number, ascH: number, width: number, mode: "scale" | "spacing") {
  return useMemo(() => {
    const probe = measure("h", `${weight} 100px ${family}`);
    const size = (100 * ascH) / (probe.actualBoundingBoxAscent || 72);
    const font = `${weight} ${size}px ${family}`;
    const m = measure(text, font);
    const glyphW = m.actualBoundingBoxLeft + m.actualBoundingBoxRight;
    const A = m.fontBoundingBoxAscent ?? size * 0.92;
    const D = m.fontBoundingBoxDescent ?? size * 0.24;
    const baseOff = (size - (A + D)) / 2 + A;
    let sx = 1;
    let ls = 0;
    if (mode === "scale") sx = width / glyphW;
    else ls = (width - glyphW) / (text.length - 1);
    return { size, font, sx, ls, abL: m.actualBoundingBoxLeft, baseOff };
  }, [text, family, weight, ascH, width, mode]);
}

function FitText(props: {
  text: string; family: string; weight: number; left: number; width: number; baseline: number;
  ascH: number; color: string; mode: "scale" | "spacing";
}) {
  const f = useFit(props.text, props.family, props.weight, props.ascH, props.width, props.mode);
  return (
    <div
      style={{
        position: "absolute",
        left: props.left + f.abL * f.sx,
        top: props.baseline - f.baseOff,
        font: f.font,
        lineHeight: `${f.size}px`,
        letterSpacing: `${f.ls}px`,
        whiteSpace: "nowrap",
        color: props.color,
        transform: `scaleX(${f.sx})`,
        transformOrigin: "0 0",
      }}
    >
      {props.text}
    </div>
  );
}

// ---------- chart ----------
const PANEL = { left: 310, top: 187, width: 1925, height: 846 };

function LiquidationChart() {
  const ref = useRef<HTMLCanvasElement>(null);
  useEffect(() => {
    if (!ref.current) return;
    const zeroLine = {
      id: "zeroLine",
      afterDatasetsDraw(chart: any) {
        const { ctx, chartArea } = chart;
        const y = chart.scales.yL.getPixelForValue(0);
        ctx.save();
        ctx.strokeStyle = "rgba(80,80,86,0.55)";
        ctx.lineWidth = 2;
        ctx.beginPath();
        ctx.moveTo(chartArea.left, y);
        ctx.lineTo(chartArea.right, y);
        ctx.stroke();
        ctx.restore();
      },
    };
    const chart = new Chart(ref.current, {
      type: "line",
      data: {
        datasets: [
          {
            label: "Short liquidations",
            data: toXY(shortLiqA, shortLiqB, shortLiqC, shortLiqD),
            yAxisID: "yL",
            borderColor: "rgb(112,222,162)",
            backgroundColor: "rgb(94,205,148)",
            borderWidth: 1.2,
            fill: "origin",
            pointRadius: 0,
            tension: 0,
            borderJoinStyle: "round",
            order: 0,
          },
          {
            label: "Long liquidations",
            data: toXY(longLiqA, longLiqB, longLiqC, longLiqD),
            yAxisID: "yL",
            borderColor: "rgb(232,56,102)",
            backgroundColor: "rgb(212,40,90)",
            borderWidth: 1.2,
            fill: "origin",
            pointRadius: 0,
            tension: 0,
            borderJoinStyle: "round",
            order: 1,
          },
          {
            label: "Price",
            data: toXY(priceA, priceB, priceC, priceD),
            yAxisID: "yP",
            borderColor: "#ffffff",
            borderWidth: 2.4,
            fill: false,
            pointRadius: 0,
            tension: 0,
            borderJoinStyle: "round",
            order: 2,
          },
        ],
      },
      options: {
        animation: false,
        responsive: false,
        maintainAspectRatio: false,
        parsing: false as any,
        normalized: true,
        events: [],
        layout: { padding: 0 },
        plugins: { legend: { display: false }, tooltip: { enabled: false }, title: { display: false } },
        scales: {
          x: { type: "linear", min: 0, max: HOUR_MAX, display: false },
          yP: { type: "linear", min: PRICE_MIN, max: PRICE_MAX, display: false },
          yL: { type: "linear", min: LIQ_MIN, max: LIQ_MAX, display: false },
        },
      } as any,
      plugins: [zeroLine],
    });
    return () => chart.destroy();
  }, []);
  return (
    <canvas
      ref={ref}
      width={PANEL.width}
      height={PANEL.height}
      style={{ position: "absolute", left: 0, top: 0, width: PANEL.width, height: PANEL.height }}
    />
  );
}

export default function App() {
  return (
    <div
      style={{
        position: "absolute",
        left: 0,
        top: 0,
        width: 2544,
        height: 1400,
        background: "#191919",
        overflow: "hidden",
      }}
    >
      {/* header wordmark */}
      <FitText text={BRAND} family="Roboto" weight={900} left={1109} width={328} baseline={112} ascH={42.5} color="#ffffff" mode="scale" />
      <div style={{ position: "absolute", left: 1109, top: 117, width: 24, height: 5, background: "#dd5128" }} />

      {/* chart panel */}
      <div
        style={{
          position: "absolute",
          left: PANEL.left,
          top: PANEL.top,
          width: PANEL.width,
          height: PANEL.height,
          background: "#222326",
          borderRadius: 24,
          overflow: "hidden",
        }}
      >
        <FitText text={BRAND} family="Roboto" weight={900} left={950 - PANEL.left} width={614} baseline={630 - PANEL.top} ascH={77} color="#2f3033" mode="scale" />
        <div style={{ position: "absolute", left: 950 - PANEL.left, top: 641 - PANEL.top, width: 47, height: 10, background: "#3a2824" }} />
        <LiquidationChart />
      </div>

      {/* title */}
      <FitText text={TITLE} family="Inter, 'Liberation Sans', sans-serif" weight={800} left={523} width={1489} baseline={1284} ascH={150} color="#ffffff" mode="spacing" />
    </div>
  );
}
